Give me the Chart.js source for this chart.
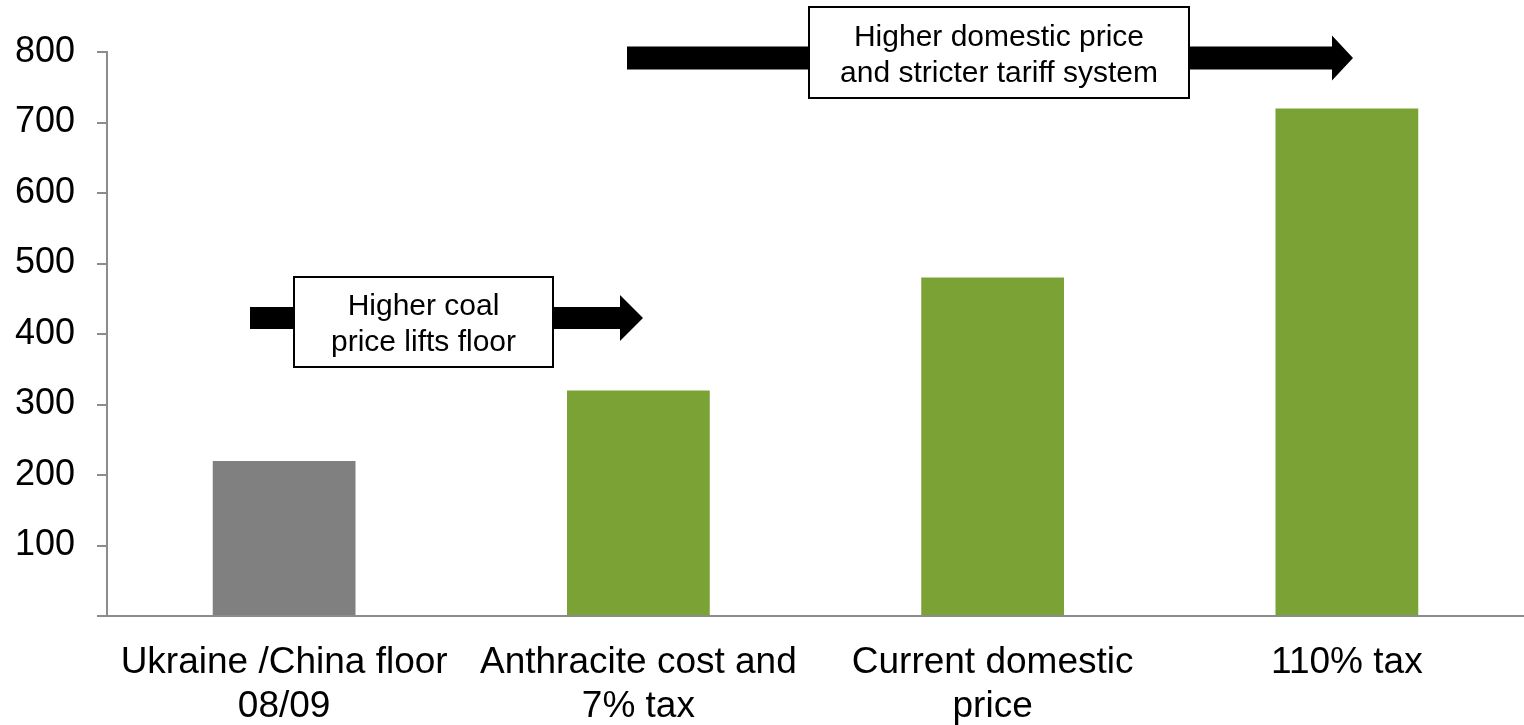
<!DOCTYPE html>
<html>
<head>
<meta charset="utf-8">
<script src="https://cdn.jsdelivr.net/npm/chart.js@4.4.1/dist/chart.umd.min.js"></script>
<style>
  html, body { margin: 0; padding: 0; background: #fff; }
  #chart { display: block; }
</style>
</head>
<body>
<canvas id="chart" width="1524" height="725"></canvas>
<script>
// categories, values and y ticks
const categories = [
    ['Ukraine /China floor', '08/09'],
    ['Anthracite cost and', '7% tax'],
    ['Current domestic', 'price'],
    ['110% tax']
];
const prices = [220, 320, 480, 720];
const barColors = ['#808080', '#7AA234', '#7AA234', '#7AA234'];
const yTicks = [0, 100, 200, 300, 400, 500, 600, 700, 800];

const FONT = "'Liberation Sans', Arial, sans-serif";
const AXIS = '#8C8C8C';

// arrows with a text box sitting on the shaft
const callouts = [
    { x0: 250, x1: 620, tip: 643, y: 318, shaft: 22, head: 46,
      box: [294, 277, 553, 367], lines: ['Higher coal', 'price lifts floor'] },
    { x0: 627, x1: 1332, tip: 1353, y: 58, shaft: 23, head: 45,
      box: [809, 7, 1189, 98], lines: ['Higher domestic price', 'and stricter tariff system'] }
];

const calloutPlugin = {
    id: 'callouts',
    afterDraw(chart) {
        const ctx = chart.ctx;
        ctx.save();
        callouts.forEach(c => {
            // arrow
            ctx.fillStyle = '#000';
            ctx.beginPath();
            ctx.moveTo(c.x0, c.y - c.shaft / 2);
            ctx.lineTo(c.x1, c.y - c.shaft / 2);
            ctx.lineTo(c.x1, c.y - c.head / 2);
            ctx.lineTo(c.tip, c.y);
            ctx.lineTo(c.x1, c.y + c.head / 2);
            ctx.lineTo(c.x1, c.y + c.shaft / 2);
            ctx.lineTo(c.x0, c.y + c.shaft / 2);
            ctx.closePath();
            ctx.fill();

            // box
            const [bx0, by0, bx1, by1] = c.box;
            ctx.fillStyle = '#fff';
            ctx.fillRect(bx0, by0, bx1 - bx0, by1 - by0);
            ctx.strokeStyle = '#000';
            ctx.lineWidth = 2;
            ctx.strokeRect(bx0, by0, bx1 - bx0, by1 - by0);

            // text
            ctx.fillStyle = '#000';
            ctx.font = '30px ' + FONT;
            ctx.textAlign = 'center';
            ctx.textBaseline = 'middle';
            const cx = (bx0 + bx1) / 2;
            const cy = (by0 + by1) / 2 + 3;
            const lh = 36;
            c.lines.forEach((t, i) => {
                ctx.fillText(t, cx, cy + (i - (c.lines.length - 1) / 2) * lh);
            });
        });
        ctx.restore();
    }
};

new Chart(document.getElementById('chart'), {
    type: 'bar',
    data: {
        labels: categories,
        datasets: [{
            data: prices,
            backgroundColor: barColors,
            borderWidth: 0,
            categoryPercentage: 1,
            barPercentage: 0.403
        }]
    },
    options: {
        responsive: false,
        animation: false,
        layout: { padding: { top: 52, right: 0, left: 0, bottom: 0 } },
        plugins: {
            legend: { display: false },
            tooltip: { enabled: false }
        },
        scales: {
            x: {
                grid: { display: false, drawTicks: false },
                border: { display: true, color: AXIS, width: 2 },
                ticks: {
                    color: '#000',
                    font: { family: FONT, size: 37, lineHeight: 1.19 },
                    padding: 25,
                    maxRotation: 0,
                    autoSkip: false
                },
                afterFit: s => { s.height = 109; }
            },
            y: {
                min: 0,
                max: 800,
                afterBuildTicks: s => { s.ticks = yTicks.map(v => ({ value: v })); },
                grid: {
                    drawOnChartArea: false,
                    drawTicks: true,
                    tickLength: 10,
                    color: AXIS,
                    lineWidth: 2
                },
                border: { display: true, color: AXIS, width: 2 },
                ticks: {
                    color: '#000',
                    font: { family: FONT, size: 36 },
                    padding: 22,
                    callback: v => (v === 0 ? '' : v)
                },
                afterFit: s => { s.width = 107; }
            }
        }
    },
    plugins: [calloutPlugin]
});
</script>
</body>
</html>
